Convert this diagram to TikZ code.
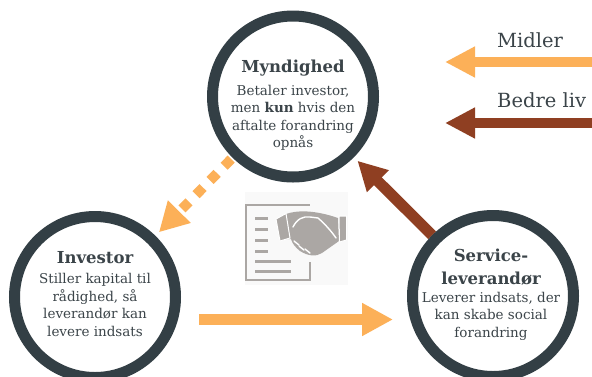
\documentclass[tikz,border=0pt]{standalone}
\usepackage{fontspec}
\setmainfont{DejaVu Serif}
\usetikzlibrary{arrows.meta,backgrounds}
\definecolor{ring}{HTML}{333F45}
\definecolor{txt}{HTML}{3B4449}
\definecolor{orng}{HTML}{FCB058}
\definecolor{brwn}{HTML}{8F3F22}
\definecolor{icon}{HTML}{ABA7A4}
\definecolor{iconbg}{HTML}{F9F9F9}
\begin{document}
\begin{tikzpicture}[x=1pt,y=-1pt,
  ringnode/.style={circle, draw=ring, fill=white, line width=11pt, minimum size=161pt, inner sep=0pt},
  ttl/.style={text=txt, font=\fontsize{16.5}{23}\selectfont\bfseries, align=center, inner sep=0pt},
  body/.style={text=txt, font=\fontsize{13.5}{17.5}\selectfont, align=center, inner sep=0pt},
  legend/.style={text=txt, font=\fontsize{19.5}{22}\selectfont, anchor=west, inner sep=0pt},
  bigarrow/.style={line width=#1, -{Triangle[length=30pt,width=29pt]}},
  iconline/.style={icon, line width=3pt},
  crease/.style={white, line width=1.4pt, line cap=round}]
\useasboundingbox (0,0) rectangle (592,376);

% circles
\node[ringnode] (myn) at (293,96.5) {};
\node[ringnode] (inv) at (95,297) {};
\node[ringnode] (svc) at (493,296) {};

% texts
\node[ttl] (mynT) at (293,68) {Myndighed};
\node[body] (mynB) at (293,118) {Betaler investor,\\men \textbf{kun} hvis den\\aftalte forandring\\opnås};
\node[ttl] (invT) at (95,258) {Investor};
\node[body] (invB) at (95,305) {Stiller kapital til\\rådighed, så\\leverandør kan\\levere indsats};
\node[ttl] (svcT) at (491,267.5) {Service-\\leverandør};
\node[body] (svcB) at (491,316) {Leverer indsats, der\\kan skabe social\\forandring};

% legend
\coordinate (m1) at (592,62);
\coordinate (m2) at (445,62);
\coordinate (b1) at (592,123);
\coordinate (b2) at (445,123);
\coordinate (o1) at (199,319.5);
\coordinate (o2) at (393,319.5);
\node[legend] (midler) at (497,40) {Midler};
\node[legend] (bedre) at (497,100) {Bedre liv};

\begin{scope}[on background layer]
  \fill[white] (0,0) rectangle (592,376);
  \draw[orng, bigarrow=10pt] (m1) -- (m2);
  \draw[brwn, bigarrow=10.5pt] (b1) -- (b2);
  \draw[orng, line width=11pt, -{Triangle[length=31pt,width=31pt]}] (o1) -- (o2);
  \draw[orng, line width=10pt, dash pattern=on 10pt off 10pt, shorten <=2pt, shorten >=5pt,
        -{Triangle[length=29pt,width=30pt]}] (myn) -- (inv);
  \draw[brwn, line width=11pt, shorten >=5pt, -{Triangle[length=29pt,width=29pt]}] (svc) -- (myn);
\end{scope}

% icon
\fill[iconbg] (245,192) rectangle (348,285);
\draw[icon, line width=2.5pt] (310,262) -- (310,280) -- (246,280) -- (246,205) -- (310,205);
\foreach \yy in {218,229,240,251} \draw[iconline] (255,\yy) -- (268,\yy);
\foreach \yy in {261,271} \draw[iconline] (255,\yy) -- (291,\yy);
\fill[icon] (286,214) .. controls (297,210) and (315,210) .. (338,218) -- (339,241) -- (322,253)
   .. controls (316,257) and (308,256) .. (300,251) .. controls (295,247) and (292,243) .. (291,239)
   -- (284,239) -- cycle;
\draw[crease] (293,227) .. controls (297,219) and (303,216) .. (310,217) -- (318,218)
   .. controls (325,224) and (332,232) .. (336,238);
\draw[crease] (294,241) -- (299,245);
\draw[crease] (299,246) -- (304,250);
\draw[crease] (305,249) -- (310,253);
\fill[icon, draw=white, line width=1pt] (276,219) -- (286,213.5) -- (290,238) -- (280,241) -- cycle;
\fill[icon, draw=white, line width=1pt] (339,216) -- (346.5,216) -- (346.5,240) -- (339.5,242) -- cycle;
\end{tikzpicture}
\end{document}
